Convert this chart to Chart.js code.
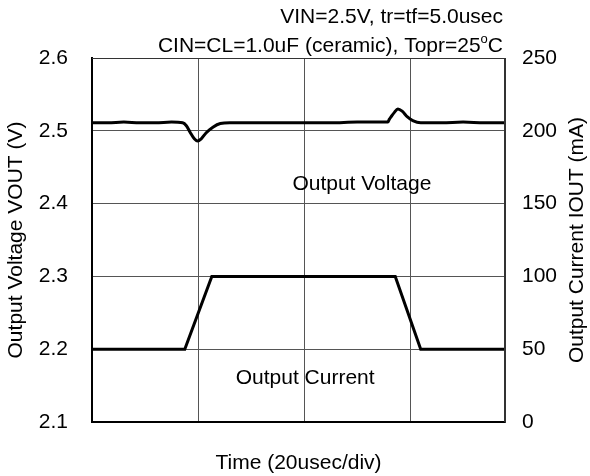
<!DOCTYPE html>
<html>
<head>
<meta charset="utf-8">
<script src="https://cdn.jsdelivr.net/npm/chart.js@4"></script>
<style>
html,body{margin:0;padding:0;background:#fff;}
#wrap{width:590px;height:476px;position:relative;}
</style>
</head>
<body>
<div id="wrap"><canvas id="c" width="590" height="476"></canvas></div>
<script>
// Time in usec (20 usec/div)
const voltTime = [0,3,6,9,12,15,17.1,17.8,18.5,19.3,19.9,20.6,21.5,22.8,24.2,26,30,35,40,45,50,53,55.8,56.1,56.4,57,57.7,58.5,59.5,60.5,62,66,70,74,78];
const voltValues = [2.511,2.511,2.512,2.511,2.511,2.512,2.511,2.507,2.498,2.489,2.486,2.489,2.497,2.505,2.510,2.511,2.511,2.511,2.511,2.511,2.512,2.512,2.512,2.516,2.519,2.525,2.530,2.527,2.519,2.514,2.511,2.511,2.512,2.511,2.511];
const currTime = [0,17.5,22.6,57.2,62.0,78];
const currValues = [50,50,100,100,50,50];
const voltTicks = [2.1,2.2,2.3,2.4,2.5,2.6];
const currTicks = [0,50,100,150,200,250];
const timeGrid = [20,40,60];
const titleLines = ["VIN=2.5V, tr=tf=5.0usec","CIN=CL=1.0uF (ceramic), Topr=25\u00B0C"];
const rightTitle = 'Output Current IOUT (mA)';

const FONT = "'Liberation Sans', Arial, sans-serif";
const FS = 21;
Chart.defaults.font.family = FONT;
Chart.defaults.color = '#000';

function drawSuperDegree(ctx, text, right, y){
  // draws text right-aligned; degree sign rendered as superscript "o"
  const parts = text.split('\u00B0');
  if (parts.length < 2){ ctx.textAlign='right'; ctx.fillText(text, right, y); return; }
  ctx.textAlign='left';
  const big = FS+'px '+FONT, small = Math.round(FS*0.62)+'px '+FONT;
  ctx.font = big; const w0 = ctx.measureText(parts[0]).width, w2 = ctx.measureText(parts[1]).width;
  ctx.font = small; const w1 = ctx.measureText('o').width;
  let x = right - (w0 + w1 + w2);
  ctx.font = big; ctx.fillText(parts[0], x, y); x += w0;
  ctx.font = small; ctx.fillText('o', x, y - FS*0.3); x += w1;
  ctx.font = big; ctx.fillText(parts[1], x, y);
}

const annot = {
  id:'annot',
  afterDraw(chart){
    const {ctx, chartArea:a, scales} = chart;
    ctx.save();
    ctx.strokeStyle='#333'; ctx.lineWidth=1;
    ctx.beginPath();
    ctx.moveTo(a.left, a.top+0.5); ctx.lineTo(a.right, a.top+0.5);
    ctx.moveTo(a.right-0.5, a.top); ctx.lineTo(a.right-0.5, a.bottom);
    ctx.stroke();
    ctx.fillStyle='#000';
    ctx.font=FS+'px '+FONT;
    ctx.textAlign='right'; ctx.textBaseline='middle';
    ctx.fillText(titleLines[0], 503, 17);
    drawSuperDegree(ctx, titleLines[1], 503, 46);
    ctx.font=FS+'px '+FONT;
    ctx.textAlign='center';
    const xs = scales.x, ys = scales.y;
    ctx.fillText('Output Voltage', xs.getPixelForValue(50.9), ys.getPixelForValue(2.426));
    ctx.fillText('Output Current', xs.getPixelForValue(40.2), ys.getPixelForValue(2.160));
    // right axis title reading bottom-to-top
    ctx.translate(577, (a.top + a.bottom)/2);
    ctx.rotate(-Math.PI/2);
    ctx.fillText(rightTitle, 0, 0);
    ctx.restore();
  }
};

new Chart(document.getElementById('c'), {
  type:'line',
  data:{
    datasets:[
      {label:'Output Voltage', data: voltTime.map((t,i)=>({x:t,y:voltValues[i]})), yAxisID:'y', borderColor:'#000', borderWidth:3, pointRadius:0, tension:0.3, cubicInterpolationMode:'monotone'},
      {label:'Output Current', data: currTime.map((t,i)=>({x:t,y:currValues[i]})), yAxisID:'y2', borderColor:'#000', borderWidth:3, pointRadius:0, tension:0}
    ]
  },
  options:{
    responsive:false, animation:false, devicePixelRatio:1,
    layout:{padding:{top:58,right:0,left:0,bottom:0}},
    plugins:{legend:{display:false}, tooltip:{enabled:false}},
    scales:{
      x:{type:'linear', min:0, max:77.9,
        afterBuildTicks(s){ s.ticks = timeGrid.map(v=>({value:v})); },
        afterFit(s){ s.height = 54; },
        ticks:{display:false},
        grid:{color:'#555', lineWidth:1, drawTicks:false},
        border:{color:'#000', width:2},
        title:{display:true, text:'Time (20usec/div)', font:{size:FS}, padding:{top:20,bottom:0}}
      },
      y:{position:'left', min:2.1, max:2.6,
        afterBuildTicks(s){ s.ticks = voltTicks.map(v=>({value:v})); },
        afterFit(s){ s.width = 92; },
        ticks:{font:{size:FS}, padding:24, callback:v=>Number(v).toFixed(1)},
        grid:{color:'#555', lineWidth:1, drawTicks:false},
        border:{color:'#000', width:2},
        title:{display:true, text:'Output Voltage VOUT (V)', font:{size:FS}, padding:{top:4,bottom:0}}
      },
      y2:{position:'right', min:0, max:250,
        afterBuildTicks(s){ s.ticks = currTicks.map(v=>({value:v})); },
        afterFit(s){ s.width = 85; },
        ticks:{font:{size:FS}, padding:17},
        grid:{display:false, drawTicks:false},
        border:{color:'#333', width:1},
        title:{display:false}
      }
    }
  },
  plugins:[annot]
});
</script>
</body>
</html>
